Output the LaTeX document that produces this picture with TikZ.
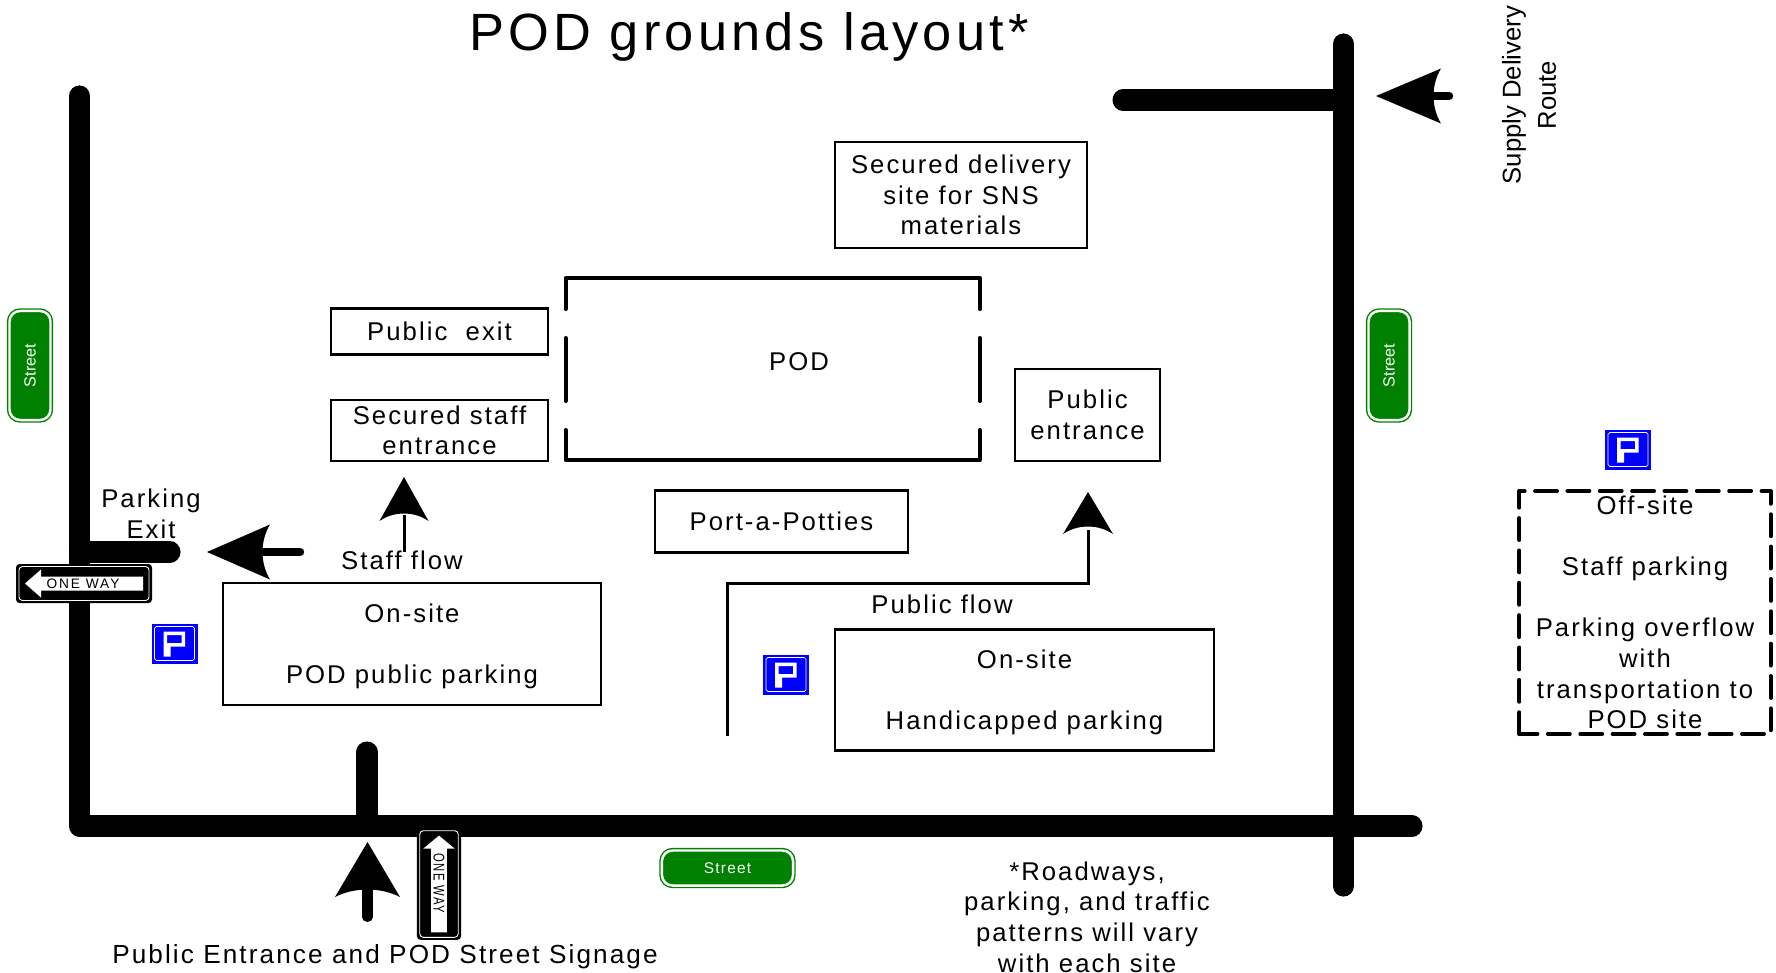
\documentclass[tikz,border=0pt]{standalone}
\usepackage{fontspec}
\setmainfont[LetterSpace=8]{Liberation Sans}
\newfontfamily\plainfont{Liberation Sans}
\usepackage{xcolor}
\usetikzlibrary{arrows,positioning,fit,calc}
\definecolor{streetgreen}{RGB}{0,128,0}
\tikzset{
  road/.style={line width=6pt, line cap=round, line join=round},
  box/.style={draw, line width=0.7pt, fill=white, inner sep=0pt, outer sep=0pt, align=center, font=\fontsize{7.3}{8.7}\selectfont},
  label/.style={inner sep=0pt, align=center, font=\fontsize{7.3}{8.7}\selectfont},
  flow/.style={line width=2.4pt, line cap=round},
  thinflow/.style={line width=0.85pt},
  wall/.style={line width=1.15pt, line cap=round, line join=round},
  street/.style={draw=streetgreen, double=white, double distance=0.7pt, line width=0.4pt, fill=streetgreen,
    rounded corners=3pt, inner sep=0pt, text=white},
  pics/flowtip/.style 2 args={code={
    \fill (0,0) -- (-#1,-#2/2) .. controls (-#1+10,-#2/5) and (-#1+10,#2/5) .. (-#1,#2/2) -- cycle;
  }},
  parksign/.pic={
    \fill[blue] (-23,-20) rectangle (23,20);
    \draw[white, line width=0.2pt, rounded corners=0.5pt] (-20,-17) rectangle (20,17);
    \fill[white, even odd rule] (-11,-12) -- (10.5,-12) -- (10.5,3) -- (-4,3) -- (-4,13) -- (-11,13) -- cycle
      (-7.5,-8.5) -- (7,-8.5) -- (7,-0.5) -- (-7.5,-0.5) -- cycle;
  },
  onewaysign/.pic={
    \fill[rounded corners=1pt] (-68,-19.5) rectangle (68,19.5);
    \draw[white, line width=0.25pt, rounded corners=1pt] (-65,-17) rectangle (65,17);
    \fill[white] (-59,0) -- (-43,-14) -- (-43,-7) -- (59,-7) -- (59,7) -- (-43,7) -- (-43,14) -- cycle;
    \node[transform shape, inner sep=0pt, font=\addfontfeature{LetterSpace=14}\fontsize{3.9}{4}\selectfont] (-txt) at (-1,0) {ONE WAY};
  },
}
\begin{document}
\begin{tikzpicture}[x=0.01cm, y=-0.01cm]
\useasboundingbox (0,0) rectangle (1776,973);
% title
\node[label, font=\fontsize{14.9}{16}\selectfont] (title) at (749,37) {POD grounds layout*};
% roads
\draw[road] (79.5,96) -- (79.5,826) -- (1412,826);
\draw[road] (1343.5,44) -- (1343.5,886);
\draw[road] (1123,100) -- (1343.5,100);
\draw[road] (367,752) -- (367,826);
\draw[road] (79.5,552) -- (170,552);
% pod outline, walls with door gaps
\draw[wall] (565.6,309) -- (565.6,278) -- (979.7,278) -- (979.7,309);
\draw[wall] (565.6,338) -- (565.6,401);
\draw[wall] (979.7,338) -- (979.7,401);
\draw[wall] (565.6,430) -- (565.6,460) -- (979.7,460) -- (979.7,430);
\node[label] (pod) at (799,362) {POD};
% boxes
\node[box, minimum width=2.52cm, minimum height=1.06cm] (delivery) at (961,195) {Secured delivery\\site for SNS\\materials};
\node[box, minimum width=2.17cm, minimum height=0.46cm] (pubexit) at (439.5,331.5) {Public\ \ exit};
\node[box, minimum width=2.17cm, minimum height=0.61cm] (staffin) at (439.5,430.5) {Secured staff\\entrance};
\node[box, minimum width=1.45cm, minimum height=0.92cm] (pubin) at (1087.5,415) {Public\\entrance};
\node[box, minimum width=2.53cm, minimum height=0.62cm] (potties) at (781.5,521.5) {Port-a-Potties};
\node[box, minimum width=3.78cm, minimum height=1.22cm] (onsite) at (412,644) {\rule{0pt}{6.5pt}On-site\\[8.7pt]POD public parking};
\node[box, minimum width=3.79cm, minimum height=1.21cm] (handicap) at (1024.5,690) {\rule{0pt}{6.5pt}On-site\\[8.7pt]Handicapped parking};
\node[box, draw=none, fill=none, minimum width=2.51cm, minimum height=2.43cm] (offsite) at (1645,612.5) {Off-site\\[8.7pt]Staff parking\\[8.7pt]Parking overflow\\with\\transportation to\\POD site};
\draw[wall, dash pattern=on 6.2pt off 3pt] (offsite.south west) rectangle (offsite.north east);
% flows
\coordinate (exittail) at (300,552);
\coordinate (exithead) at (207,552);
\draw[flow] (exittail) -- ($(exithead)+(55,0)$);
\pic[rotate=180] at (exithead) {flowtip={63}{55}};
\coordinate (stafftail) at (404,552);
\coordinate (staffhead) at (404,477);
\draw[thinflow] (stafftail) -- ($(staffhead)+(0,38)$);
\pic[rotate=90] at (staffhead) {flowtip={44}{49}};
\coordinate (pubtail) at (727,736);
\coordinate (pubbend) at (727,583);
\coordinate (pubcorner) at (1088,583);
\coordinate (pubhead) at (1088,492);
\draw[thinflow] (pubtail) -- (pubbend) -- (pubcorner) -- ($(pubhead)+(0,38)$);
\pic[rotate=90] at (pubhead) {flowtip={42}{50}};
\coordinate (entrytail) at (367.5,917);
\coordinate (entryhead) at (367.5,842);
\draw[line width=2.85pt, line cap=round] (entrytail) -- ($(entryhead)+(0,48)$);
\pic[rotate=90] at (entryhead) {flowtip={55}{65}};
\coordinate (supplytail) at (1449,96);
\coordinate (supplyhead) at (1376,96);
\draw[flow] (supplytail) -- ($(supplyhead)+(55,0)$);
\pic[rotate=180] at (supplyhead) {flowtip={65}{55}};
% labels
\node[label] (parkexit) at (151,513.5) {Parking\\Exit};
\node[label] (staffflow) at (402,560) {Staff flow};
\node[label] (pubflow) at (942,604) {Public flow};
\node[label, font=\fontsize{7.44}{8.7}\selectfont] (entrance) at (385,957) {Public Entrance and POD Street Signage};
\node[label] (roadnote) at (1087,917) {*Roadways,\\parking, and traffic\\patterns will vary\\with each site};
\node[inner sep=0pt, align=center, rotate=90, font=\plainfont\fontsize{7.3}{10}\selectfont] (supply) at (1529,95) {Supply Delivery\\Route};
% street signs
\node[street, minimum width=0.41cm, minimum height=1.09cm] (streetw) at (30,365.5) {\rotatebox{90}{\plainfont\fontsize{4.6}{5}\selectfont Street}};
\node[street, minimum width=0.41cm, minimum height=1.09cm] (streete) at (1389,365.5) {\rotatebox{90}{\plainfont\fontsize{4.6}{5}\selectfont Street}};
\node[street, minimum width=1.31cm, minimum height=0.35cm, font=\fontsize{4.4}{5}\selectfont] (streets) at (727.5,868) {Street};
% one way signs
\pic (onew) at (84,583.5) {onewaysign};
\pic[rotate=-90, xscale=0.82, yscale=1.13] (ones) at (439,884) {onewaysign};
% parking signs
\foreach \x/\y/\name in {174.5/643.5/pwest, 786/674.5/pmid, 1628/449.5/peast}{
  \pic (\name) at (\x,\y) {parksign};
}
\end{tikzpicture}
\end{document}
